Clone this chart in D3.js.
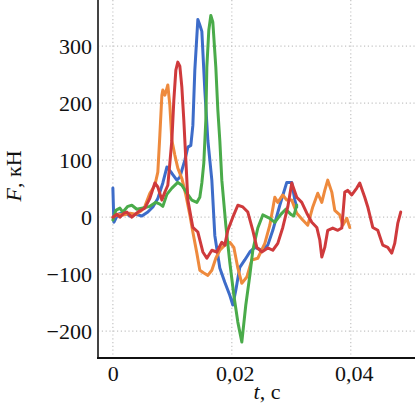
<!DOCTYPE html>
<html>
<head>
<meta charset="utf-8">
<script src="https://cdn.jsdelivr.net/npm/d3@7"></script>
<style>
	body { margin: 0; background: #fff; }
	svg { display: block; }
	svg text { font-family: "Liberation Serif", "Times New Roman", "DejaVu Serif", serif; font-size: 22px; fill: #111; }
	.grid-line { stroke: #c4c4c4; stroke-width: 1.2; stroke-dasharray: 1.2,2.6; }
	.series { fill: none; stroke-width: 3; stroke-linejoin: round; stroke-linecap: round; }
</style>
</head>
<body>
<svg id="chart" width="415" height="405"></svg>
<script>
// time in ms, force in kN
const blueSeries = [
	[0, 51], [0.17, -9], [0.84, 5], [1.85, 9], [2.86, 2], [3.87, 5], [4.87, 2], [5.88, 9],
	[6.72, 18], [7.56, 33], [8.40, 60], [9.08, 88], [9.92, 77], [10.76, 65], [11.26, 70],
	[12.10, 100], [12.61, 123], [13.11, 126], [13.45, 161], [13.78, 258], [14.29, 347],
	[14.62, 337], [14.96, 326], [15.46, 223], [15.97, 135], [16.64, 65], [17.14, -32],
	[17.98, -89], [18.82, -114], [19.66, -137], [20.17, -154], [20.67, -128], [21.34, -88],
	[22.18, -75], [23.03, -61], [23.87, -53], [25.04, -58], [26.05, -49], [26.89, -23],
	[28.07, 21], [29.24, 61], [30.08, 61], [30.59, 30], [30.92, 18]
];
const orangeSeries = [
	[0, 0], [0.84, 5], [1.85, 4], [2.86, 7], [3.87, 5], [4.71, 11], [5.38, 19], [6.22, 42],
	[7.06, 56], [7.56, 79], [7.90, 144], [8.24, 214], [8.40, 223], [8.74, 214], [9.08, 226],
	[9.24, 232], [9.58, 196], [9.92, 135], [10.42, 109], [10.92, 86], [11.60, 68], [12.27, 39],
	[12.94, 4], [13.45, -26], [14.12, -63], [14.62, -93], [15.29, -98], [15.97, -102],
	[16.64, -93], [17.31, -72], [17.98, -58], [18.82, -49], [19.66, -44], [20.34, -53],
	[21.01, -89], [21.68, -116], [22.52, -105], [23.36, -75], [24.37, -72], [25.55, -46],
	[26.39, -14], [27.23, 35], [27.73, 26], [28.57, 39], [29.24, 30], [30.08, 30], [30.92, 7],
	[31.93, -5], [32.77, -14], [33.61, 18], [34.45, 42], [35.13, 26], [35.63, 47], [36.13, 65],
	[36.81, 44], [37.31, 12], [38.15, 4], [38.66, -14], [39.33, -2], [39.83, -18]
];
const greenSeries = [
	[0, -5], [0.50, 12], [1.18, 16], [1.68, 9], [2.52, 19], [3.19, 21], [4.03, 14], [5.04, 16],
	[6.22, 19], [7.23, 26], [7.90, 23], [8.40, 19], [9.08, 40], [9.92, 51], [10.92, 61],
	[11.60, 56], [12.44, 42], [13.28, 30], [14.12, 26], [14.62, 35], [14.96, 60], [15.29, 95],
	[15.63, 170], [15.80, 263], [16.13, 328], [16.47, 354], [16.81, 342], [17.31, 263],
	[17.65, 188], [17.98, 135], [18.32, 65], [18.99, -14], [19.66, -79], [20.34, -137],
	[21.01, -184], [21.68, -219], [22.35, -154], [23.03, -102], [23.53, -58], [24.37, -19],
	[25.21, 4], [26.39, -2], [27.23, -9], [28.24, 5], [29.08, 14], [29.92, 5], [30.42, 2],
	[30.92, 21]
];
const redSeries = [
	[0, 0], [0.67, 5], [1.18, 0], [1.85, 7], [2.35, 9], [3.19, 0], [4.20, 9], [5.38, 16],
	[6.22, 33], [7.06, 60], [7.56, 53], [8.24, 30], [8.74, 44], [9.24, 56], [9.58, 95],
	[9.92, 135], [10.25, 205], [10.59, 258], [10.92, 272], [11.26, 265], [11.60, 228],
	[11.93, 170], [12.27, 100], [12.61, 30], [13.45, -18], [14.29, -26], [15.13, -61],
	[15.80, -72], [16.64, -58], [17.48, -61], [18.32, -44], [18.82, -49], [19.33, -23],
	[20.17, 0], [21.01, 21], [21.85, 18], [22.69, 9], [23.53, -23], [24.20, -53], [25.04, -61],
	[26.05, -54], [26.89, -58], [27.73, -46], [28.57, -18], [29.41, 18], [30.08, 60],
	[30.92, 35], [31.76, 26], [32.61, 7], [33.45, -9], [34.29, -18], [34.79, -40], [35.13, -70],
	[35.63, -53], [36.13, -23], [36.97, -19], [37.82, -23], [38.49, -19], [38.99, 44],
	[39.50, 47], [40.17, 39], [41.01, 51], [41.51, 60], [42.35, 35], [42.86, 18], [43.70, -18],
	[44.54, -23], [45.38, -49], [46.22, -53], [46.89, -63], [47.39, -46], [47.90, -11], [48.40, 9]
];

const xTicks = [0, 0.02, 0.04];
const yTicks = [-200, -100, 0, 100, 200, 300];
const seriesList = [
	{name: 'blue', color: '#3d6cc9', data: blueSeries},
	{name: 'orange', color: '#ee8a3d', data: orangeSeries},
	{name: 'green', color: '#4aab4a', data: greenSeries},
	{name: 'red', color: '#cf3a3c', data: redSeries}
];

const svg = d3.select('#chart');
const plot = {left: 98, top: 0, bottom: 358, right: 415};

const x = d3.scaleLinear().domain([-0.0025, 0.0508]).range([plot.left, plot.right]);
const y = d3.scaleLinear().domain([-247, 381]).range([plot.bottom, plot.top]);

// grid
svg.append('g').selectAll('line').data(yTicks).join('line')
	.attr('class', 'grid-line')
	.attr('x1', plot.left).attr('x2', plot.right)
	.attr('y1', d => y(d)).attr('y2', d => y(d));
svg.append('g').selectAll('line').data(xTicks).join('line')
	.attr('class', 'grid-line')
	.attr('x1', d => x(d)).attr('x2', d => x(d))
	.attr('y1', plot.top).attr('y2', plot.bottom);

// lines
const line = d3.line()
	.x(d => x(d[0] / 1000))
	.y(d => y(d[1]));

svg.append('g').selectAll('path').data(seriesList).join('path')
	.attr('class', 'series')
	.attr('stroke', d => d.color)
	.attr('d', d => line(d.data));

// axes
const fmtY = d => d < 0 ? '\u2212' + Math.abs(d) : String(d);
const fmtX = d => d === 0 ? '0' : String(d).replace('.', ',');

const yAxis = svg.append('g')
	.attr('transform', `translate(${plot.left},0)`)
	.call(d3.axisLeft(y).tickValues(yTicks).tickFormat(fmtY).tickSize(0).tickPadding(6));
yAxis.select('.domain').remove();
yAxis.attr('font-family', null).attr('font-size', null);

const xAxis = svg.append('g')
	.attr('transform', `translate(0,${plot.bottom})`)
	.call(d3.axisBottom(x).tickValues(xTicks).tickFormat(fmtX).tickSize(0).tickPadding(7));
xAxis.select('.domain').remove();
xAxis.attr('font-family', null).attr('font-size', null);
xAxis.selectAll('text').attr('dx', d => d === 0 ? 0 : 3);

// spines
svg.append('line')
	.attr('x1', plot.left).attr('x2', plot.left).attr('y1', plot.top).attr('y2', plot.bottom + 1)
	.attr('stroke', '#444').attr('stroke-width', 2);
svg.append('line')
	.attr('x1', plot.left - 1).attr('x2', plot.right).attr('y1', plot.bottom).attr('y2', plot.bottom)
	.attr('stroke', '#111').attr('stroke-width', 2);

// axis titles
const yTitle = svg.append('text')
	.attr('text-anchor', 'middle')
	.attr('transform', 'translate(21,176) rotate(-90)');
yTitle.append('tspan').attr('font-style', 'italic').text('F');
yTitle.append('tspan').text(', кН');

const xTitle = svg.append('text')
	.attr('text-anchor', 'middle')
	.attr('x', 267).attr('y', 399);
xTitle.append('tspan').attr('font-style', 'italic').text('t');
xTitle.append('tspan').text(', c');
</script>
</body>
</html>
